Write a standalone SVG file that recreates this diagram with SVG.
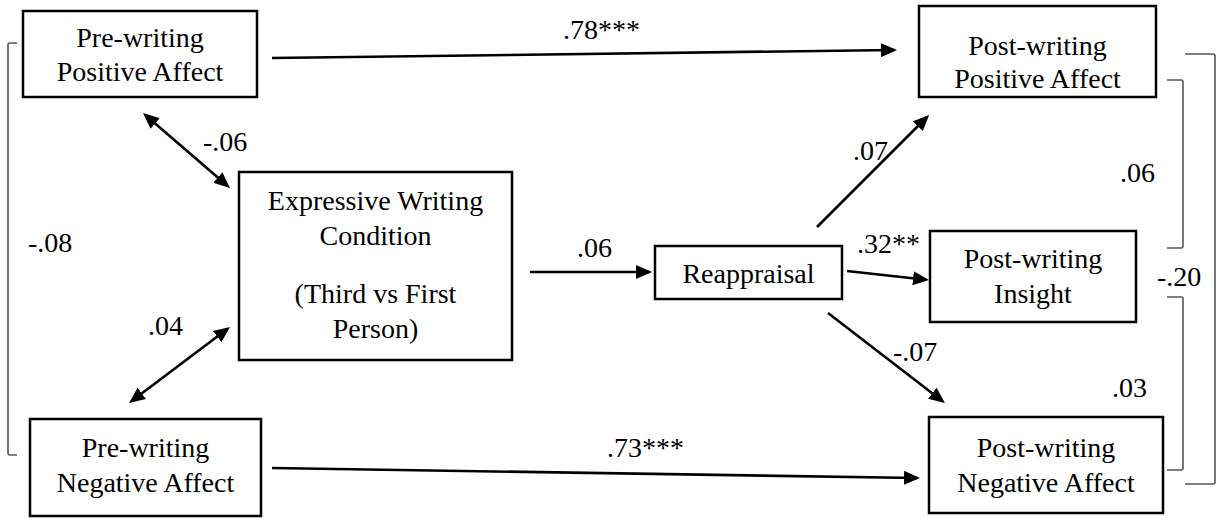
<svg xmlns="http://www.w3.org/2000/svg" width="1221" height="518" viewBox="0 0 1221 518">
<style>
.box{fill:#fff;stroke:#000;stroke-width:2.5}
.t{font-family:'Liberation Serif','DejaVu Serif',serif;font-size:28px;fill:#000}
.c{text-anchor:middle}
.arr{stroke:#000;stroke-width:2.6;fill:none;marker-end:url(#ah)}
.dbl{stroke:#000;stroke-width:2.6;fill:none;marker-end:url(#ah);marker-start:url(#ah)}
.br{stroke:#555;stroke-width:1.6;fill:none}
</style>
<defs>
<marker id="ah" markerUnits="userSpaceOnUse" markerWidth="16" markerHeight="14" viewBox="0 0 16 14" refX="13" refY="7" orient="auto-start-reverse">
<path d="M0,0 L16,7 L0,14 z" fill="#000"/>
</marker>
</defs>
<rect width="1221" height="518" fill="#fff"/>
<g id="connectors" font-family="Liberation Serif, serif">
<line class="arr" x1="272" y1="58" x2="894" y2="50"/>
<line class="arr" x1="530" y1="272" x2="649" y2="272"/>
<line class="arr" x1="817" y1="227" x2="927" y2="117"/>
<line class="arr" x1="847" y1="271" x2="926" y2="279.7"/>
<line class="arr" x1="828" y1="313" x2="942.6" y2="401.2"/>
<line class="arr" x1="272" y1="468" x2="917" y2="478"/>
<line class="dbl" x1="145.3" y1="115" x2="227.7" y2="186"/>
<line class="dbl" x1="131.4" y1="401.2" x2="227.6" y2="328.8"/>
<path class="br" d="M17,43 L10,43 Q8,43 8,45 L8,453 Q8,455 10,455 L17,455"/>
<path class="br" d="M1167,80 L1181,80 Q1183,80 1183,82 L1183,246 Q1183,248 1181,248 L1167,248"/>
<path class="br" d="M1167,297 L1181,297 Q1183,297 1183,299 L1183,468 Q1183,470 1181,470 L1167,470"/>
<path class="br" d="M1185,54 L1213,54 Q1215,54 1215,56 L1215,482 Q1215,484 1213,484 L1185,484"/>
<text class="t" x="563" y="39">.78***</text>
<text class="t" x="577" y="257">.06</text>
<text class="t" x="853" y="160">.07</text>
<text class="t" x="857" y="253">.32**</text>
<text class="t" x="893" y="361">-.07</text>
<text class="t" x="607" y="457">.73***</text>
<text class="t" x="203" y="151">-.06</text>
<text class="t" x="148" y="335">.04</text>
<text class="t" x="28" y="252">-.08</text>
<text class="t" x="1120" y="182">.06</text>
<text class="t" x="1157" y="286">-.20</text>
<text class="t" x="1112" y="397">.03</text>
</g>
<g id="pre-positive">
<rect class="box" x="23" y="11" width="234" height="86"/>
<text class="t c" x="140" y="47">Pre-writing</text>
<text class="t c" x="140" y="81">Positive Affect</text>
</g>
<g id="pre-negative">
<rect class="box" x="30" y="419" width="231" height="97"/>
<text class="t c" x="145.5" y="457">Pre-writing</text>
<text class="t c" x="145.5" y="492">Negative Affect</text>
</g>
<g id="condition">
<rect class="box" x="239" y="172" width="273" height="188"/>
<text class="t c" x="375.5" y="210">Expressive Writing</text>
<text class="t c" x="375.5" y="245">Condition</text>
<text class="t c" x="375.5" y="303">(Third vs First</text>
<text class="t c" x="375.5" y="338">Person)</text>
</g>
<g id="reappraisal">
<rect class="box" x="655" y="246" width="187" height="53"/>
<text class="t c" x="748.5" y="283">Reappraisal</text>
</g>
<g id="post-positive">
<rect class="box" x="919" y="6" width="237" height="91"/>
<text class="t c" x="1037.5" y="55">Post-writing</text>
<text class="t c" x="1037.5" y="88">Positive Affect</text>
</g>
<g id="post-insight">
<rect class="box" x="930" y="231" width="206" height="91"/>
<text class="t c" x="1033" y="268">Post-writing</text>
<text class="t c" x="1033" y="303">Insight</text>
</g>
<g id="post-negative">
<rect class="box" x="929" y="417" width="234" height="96"/>
<text class="t c" x="1046" y="457">Post-writing</text>
<text class="t c" x="1046" y="492">Negative Affect</text>
</g>
</svg>
